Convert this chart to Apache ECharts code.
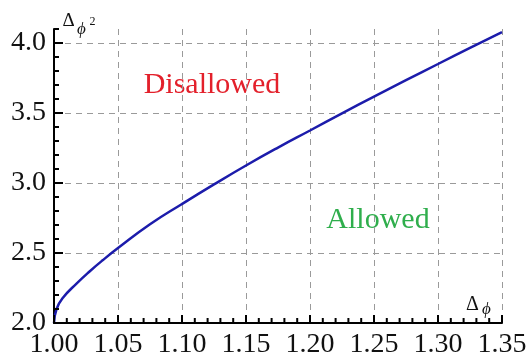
<!DOCTYPE html>
<html>
<head>
<meta charset="utf-8">
<script src="https://cdn.jsdelivr.net/npm/echarts@6/dist/echarts.min.js"></script>
<style>
html,body{margin:0;padding:0;background:#fff;}
#c{width:530px;height:363px;}
</style>
</head>
<body>
<div id="c"></div>
<script>
// Data
const deltaPhi = [1.000, 1.002, 1.007, 1.018, 1.028, 1.038, 1.050, 1.075, 1.100, 1.125, 1.150, 1.175, 1.200, 1.225, 1.250, 1.275, 1.300, 1.325, 1.350];
const deltaPhi2 = [2.00, 2.10, 2.18, 2.285, 2.37, 2.448, 2.535, 2.705, 2.85, 2.99, 3.125, 3.253, 3.375, 3.497, 3.617, 3.735, 3.85, 3.965, 4.078];
// Tick values, gridlines and minor ticks
const xTickLabels = [1.00, 1.05, 1.10, 1.15, 1.20, 1.25, 1.30, 1.35];
const yTickLabels = [2.0, 2.5, 3.0, 3.5, 4.0];
const yGridValues = [2.5, 3.0, 3.5, 4.0];
const xMinorTicks = [1.01,1.02,1.03,1.04, 1.06,1.07,1.08,1.09, 1.11,1.12,1.13,1.14, 1.16,1.17,1.18,1.19, 1.21,1.22,1.23,1.24, 1.26,1.27,1.28,1.29, 1.31,1.32,1.33,1.34];
const yMinorTicks = [2.1,2.2,2.3,2.4, 2.6,2.7,2.8,2.9, 3.1,3.2,3.3,3.4, 3.6,3.7,3.8,3.9, 4.1];
const regionLabels = ['Disallowed', 'Allowed'];

const X_MIN = 1.0, X_MAX = 1.35, Y_MIN = 2.0, Y_MAX = 4.1;
const serif = '"Liberation Serif", "DejaVu Serif", serif';
const chart = echarts.init(document.getElementById('c'));
const gridDash = {color: '#9a9a9a', width: 1, type: [6, 5]};

function tickSeries(data, horizontal, len) {
  return {
    type: 'custom', silent: true, z: 20,
    data: data,
    renderItem: (params, api) => {
      const p = api.coord([api.value(0), api.value(1)]);
      const shape = horizontal
        ? {x: p[0], y: p[1] - 1, width: len, height: 2}
        : {x: p[0] - 1, y: p[1] - len, width: 2, height: len};
      return {type: 'rect', shape: shape, style: {fill: '#000'}};
    }
  };
}

chart.setOption({
  animation: false,
  grid: {left: 54, right: 28, top: 29, bottom: 40},
  xAxis: {
    type: 'value', min: X_MIN, max: X_MAX, interval: 0.05,
    axisLine: {show: true, onZero: false, lineStyle: {color: '#000', width: 2}},
    axisTick: {show: false},
    axisLabel: {color: '#111', fontFamily: serif, fontSize: 28, margin: 8,
      formatter: v => v.toFixed(2)},
    splitLine: {show: true, lineStyle: gridDash}
  },
  yAxis: {
    type: 'value', min: Y_MIN, max: Y_MAX, interval: 0.5,
    axisLine: {show: true, onZero: false, lineStyle: {color: '#000', width: 2}},
    axisTick: {show: false},
    axisLabel: {color: '#111', fontFamily: serif, fontSize: 28, margin: 8,
      formatter: v => (Math.abs(v * 2 - Math.round(v * 2)) < 1e-6 ? v.toFixed(1) : '')},
    splitLine: {show: false}
  },
  series: [{
    type: 'line',
    data: deltaPhi.map((x, i) => [x, deltaPhi2[i]]),
    smooth: 0.5,
    showSymbol: false,
    lineStyle: {color: '#1c1cab', width: 2.5},
    z: 5,
    markLine: {
      silent: true, symbol: 'none', label: {show: false},
      lineStyle: gridDash,
      data: yGridValues.map(v => ({yAxis: v}))
    }
  },
    tickSeries(xTickLabels.map(v => [v, Y_MIN]), false, 8),
    tickSeries(xMinorTicks.map(v => [v, Y_MIN]), false, 5),
    tickSeries(yTickLabels.map(v => [X_MIN, v]), true, 9),
    tickSeries(yMinorTicks.map(v => [X_MIN, v]), true, 5)
  ],
  graphic: [
    {type: 'text', x: 212, y: 85, style: {text: regionLabels[0], font: '30px ' + serif, fill: '#e3202b', align: 'center', verticalAlign: 'middle'}},
    {type: 'text', x: 378, y: 220, style: {text: regionLabels[1], font: '30px ' + serif, fill: '#2fae4c', align: 'center', verticalAlign: 'middle'}},
    {type: 'text', x: 68.5, y: 21, style: {text: 'Δ', font: '19px ' + serif, fill: '#111', align: 'center', verticalAlign: 'middle'}},
    {type: 'text', x: 81.5, y: 30, style: {text: 'ϕ', font: 'italic 17px ' + serif, fill: '#111', align: 'center', verticalAlign: 'middle'}},
    {type: 'text', x: 92.5, y: 22, style: {text: '2', font: '12px ' + serif, fill: '#111', align: 'center', verticalAlign: 'middle'}},
    {type: 'text', x: 472.5, y: 304.5, style: {text: 'Δ', font: '20px ' + serif, fill: '#111', align: 'center', verticalAlign: 'middle'}},
    {type: 'text', x: 486.5, y: 310, style: {text: 'ϕ', font: 'italic 17px ' + serif, fill: '#111', align: 'center', verticalAlign: 'middle'}}
  ]
});
</script>
</body>
</html>
